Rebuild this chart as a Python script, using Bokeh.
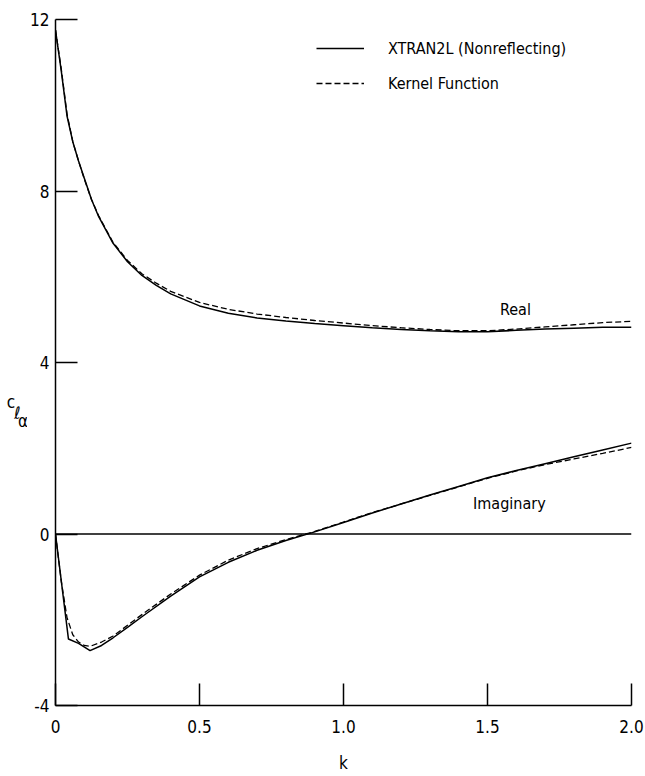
from bokeh.plotting import figure
from bokeh.layouts import row
from bokeh.models import FixedTicker, Span, Label, Legend, LegendItem, Range1d, ColumnDataSource
from bokeh.core.properties import value
from bokeh.embed import file_html
from bokeh.resources import INLINE

# ---- data ----
real_k = [0, 0.02, 0.04, 0.06, 0.08, 0.1, 0.125, 0.15, 0.2, 0.25, 0.3, 0.35, 0.4, 0.5,
          0.6, 0.7, 0.8, 0.9, 1.0, 1.1, 1.2, 1.3, 1.4, 1.5, 1.6, 1.7, 1.8, 1.9, 2.0]
real_xtran = [11.75, 10.8, 9.75, 9.15, 8.7, 8.3, 7.8, 7.4, 6.78, 6.35, 6.03, 5.8, 5.6, 5.32,
              5.15, 5.04, 4.97, 4.91, 4.86, 4.81, 4.77, 4.74, 4.72, 4.72, 4.75, 4.78, 4.80, 4.82, 4.82]
real_kernel = [11.75, 10.85, 9.8, 9.15, 8.7, 8.28, 7.8, 7.42, 6.8, 6.38, 6.07, 5.85, 5.66, 5.4,
               5.24, 5.13, 5.05, 4.98, 4.92, 4.86, 4.81, 4.77, 4.74, 4.74, 4.78, 4.83, 4.88, 4.93, 4.96]

imag_k_xtran = [0, 0.045, 0.08, 0.12, 0.16, 0.2, 0.25, 0.3, 0.4, 0.5, 0.6, 0.7, 0.8, 0.9,
                1.0, 1.1, 1.2, 1.3, 1.4, 1.5, 1.6, 1.7, 1.8, 1.9, 2.0]
imag_xtran = [0, -2.45, -2.55, -2.72, -2.6, -2.42, -2.18, -1.93, -1.45, -1.0, -0.66, -0.38, -0.15, 0.05,
              0.27, 0.49, 0.7, 0.91, 1.11, 1.31, 1.48, 1.64, 1.8, 1.96, 2.12]
imag_k_kernel = [0, 0.02, 0.04, 0.06, 0.08, 0.1, 0.12, 0.16, 0.2, 0.25, 0.3, 0.4, 0.5, 0.6,
                 0.7, 0.8, 0.9, 1.0, 1.1, 1.2, 1.3, 1.4, 1.5, 1.6, 1.7, 1.8, 1.9, 2.0]
imag_kernel = [0, -1.1, -1.95, -2.35, -2.52, -2.6, -2.62, -2.52, -2.38, -2.13, -1.88, -1.4, -0.96, -0.61,
               -0.34, -0.13, 0.06, 0.28, 0.5, 0.7, 0.9, 1.1, 1.3, 1.47, 1.62, 1.75, 1.88, 2.02]

x_ticks = [0, 0.5, 1.0, 1.5, 2.0]
x_tick_labels = ["0", "0.5", "1.0", "1.5", "2.0"]
y_ticks = [-4, 0, 4, 8, 12]
y_tick_labels = ["-4", "0", "4", "8", "12"]

series_names = ["XTRAN2L (Nonreflecting)", "Kernel Function"]
x_title = "k"
# y title c_{l_alpha}, drawn letter by letter in a narrow strip left of the plot
y_title_text = ["c", "ℓ", "α"]
y_title_level = [3.08, 2.82, 2.63]
y_title_style = ["normal", "italic", "normal"]
y_title_xpos = [10.5, 17, 22.5]

FONT = "DejaVu Sans Condensed"
H = 776
TOP, BOTTOM = 19, 71
STRIP = 27

y_range = Range1d(-4, 12)

# ---- strip holding the y title ----
tf = figure(width=STRIP, height=H, output_backend="svg", toolbar_location=None,
            x_range=Range1d(0, STRIP), y_range=y_range,
            min_border_left=0, min_border_right=0, min_border_top=TOP, min_border_bottom=BOTTOM)
tf.axis.visible = False
tf.grid.visible = False
tf.outline_line_color = None
tf.border_fill_color = "white"
tf.text(x="x", y="y", text="t", text_font_style="s",
        source=ColumnDataSource(dict(x=y_title_xpos, y=y_title_level, t=y_title_text, s=y_title_style)),
        text_font=value(FONT), text_font_size=value("17px"), text_color="black",
        text_align="center", text_baseline="middle")

# ---- main plot ----
p = figure(width=645 - STRIP, height=H, output_backend="svg", toolbar_location=None,
           x_range=Range1d(0, 2.0), y_range=y_range,
           min_border_left=55 - STRIP, min_border_right=14, min_border_top=TOP, min_border_bottom=BOTTOM)
p.outline_line_color = None
p.grid.visible = False
p.background_fill_color = "white"
p.border_fill_color = "white"

for ax in (p.xaxis[0], p.yaxis[0]):
    ax.major_tick_in = 22
    ax.major_tick_out = 0
    ax.minor_tick_line_color = None
    ax.axis_line_color = "black"
    ax.axis_line_width = 1.5
    ax.major_tick_line_width = 1.5
    ax.major_tick_line_color = "black"
    ax.major_label_text_font = FONT
    ax.major_label_text_font_size = "17px"
    ax.major_label_text_color = "black"

p.xaxis[0].ticker = FixedTicker(ticks=x_ticks)
p.xaxis[0].major_label_overrides = {t: l for t, l in zip(x_ticks, x_tick_labels)}
p.xaxis[0].major_label_standoff = 14
p.xaxis[0].axis_label = x_title
p.xaxis[0].axis_label_text_font = FONT
p.xaxis[0].axis_label_text_font_style = "normal"
p.xaxis[0].axis_label_text_font_size = "17px"
p.xaxis[0].axis_label_text_color = "black"
p.xaxis[0].axis_label_standoff = 17

p.yaxis[0].ticker = FixedTicker(ticks=y_ticks)
p.yaxis[0].major_label_overrides = {t: l for t, l in zip(y_ticks, y_tick_labels)}
p.yaxis[0].major_label_standoff = 6

# zero line
p.add_layout(Span(location=0, dimension="width", line_color="black", line_width=1.5))

r_real_x = p.line(real_k, real_xtran, line_color="black", line_width=1.5)
r_real_k = p.line(real_k, real_kernel, line_color="black", line_width=1.3, line_dash="6 3")
p.line(imag_k_xtran, imag_xtran, line_color="black", line_width=1.5)
p.line(imag_k_kernel, imag_kernel, line_color="black", line_width=1.3, line_dash="6 3")

legend = Legend(items=[LegendItem(label=series_names[0], renderers=[r_real_x]),
                       LegendItem(label=series_names[1], renderers=[r_real_k])],
                location=(261, 612), glyph_width=48, glyph_height=20, label_height=20,
                label_standoff=24, spacing=15, padding=0, margin=0,
                border_line_color=None, background_fill_alpha=0,
                label_text_font=FONT, label_text_font_size="16px", label_text_color="black")
p.add_layout(legend)

def lab(x, y, t, size="16px"):
    p.add_layout(Label(x=x, y=y, text=t, text_font=FONT, text_font_size=size,
                       text_align="center", text_baseline="middle", text_color="black"))

lab(1.597, 5.24, "Real")
lab(1.576, 0.72, "Imaginary")

layout = row(tf, p, spacing=0)
open("out.html", "w").write(file_html(layout, INLINE))
